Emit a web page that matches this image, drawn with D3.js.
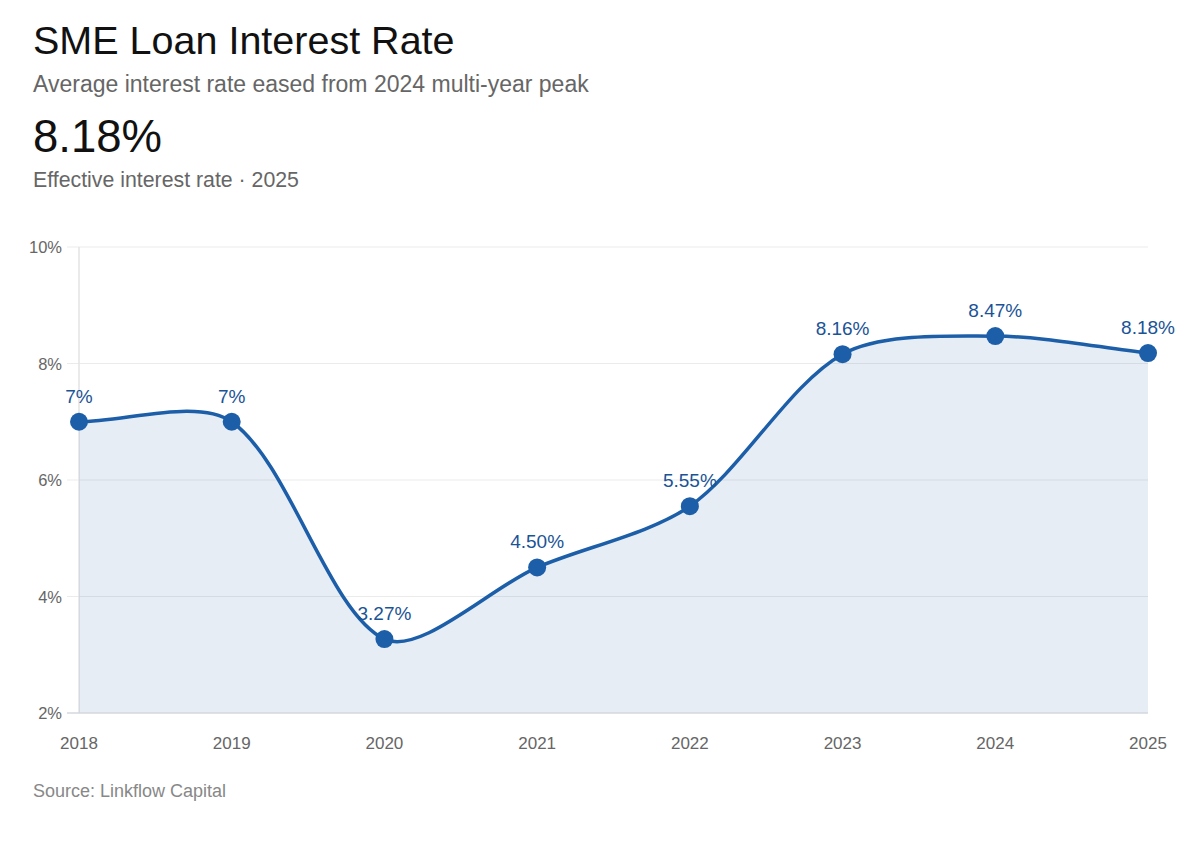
<!DOCTYPE html>
<html>
<head>
<meta charset="utf-8">
<script src="https://cdn.jsdelivr.net/npm/d3@7"></script>
<style>
  html, body { margin: 0; padding: 0; background: #fff; }
  svg { display: block; font-family: "Liberation Sans", Arial, Helvetica, sans-serif; }
</style>
</head>
<body>
<svg id="chart" width="1188" height="858"></svg>
<script>
const years = ["2018", "2019", "2020", "2021", "2022", "2023", "2024", "2025"];
const rates = [7.0, 7.0, 3.27, 4.50, 5.55, 8.16, 8.47, 8.18];
const valueLabels = ["7%", "7%", "3.27%", "4.50%", "5.55%", "8.16%", "8.47%", "8.18%"];
const yTicks = [2, 4, 6, 8, 10];

const titleText = "SME Loan Interest Rate";
const subtitleText = "Average interest rate eased from 2024 multi-year peak";
const headlineValue = "8.18%";
const headlineCaption = "Effective interest rate · 2025";
const sourceText = "Source: Linkflow Capital";

(function () {
const svg = d3.select("#chart");
const pL = 79, pR = 1148, pT = 247, pB = 713;

const x = d3.scalePoint().domain(years).range([pL, pR]);
const y = d3.scaleLinear().domain([2, 10]).range([pB, pT]);

// Header
svg.append("text").attr("x", 33).attr("y", 54).attr("font-size", 39.5).attr("fill", "#111").text(titleText);
svg.append("text").attr("x", 33).attr("y", 92).attr("font-size", 23).attr("fill", "#666").text(subtitleText);
svg.append("text").attr("x", 33).attr("y", 152).attr("font-size", 45.5).attr("fill", "#111").text(headlineValue);
svg.append("text").attr("x", 33).attr("y", 187).attr("font-size", 21.3).attr("fill", "#666").text(headlineCaption);

// Grid
svg.append("g").selectAll("line").data(yTicks.filter(d => d !== 2)).join("line")
  .attr("x1", pL - 12).attr("x2", pR)
  .attr("y1", d => y(d)).attr("y2", d => y(d))
  .attr("stroke", "#ebebeb").attr("stroke-width", 1);
svg.append("line").attr("x1", pL).attr("x2", pL).attr("y1", pT).attr("y2", pB)
  .attr("stroke", "#e3e3e3").attr("stroke-width", 1.5);

const data = years.map((yr, i) => ({ yr, v: rates[i], label: valueLabels[i] }));
const pts = data.map(d => [x(d.yr), y(d.v)]);

// Spline with tension 0.3 (distance-weighted control points)
function controlPoints(p, t) {
  return p.map((cur, i) => {
    const prev = p[i - 1] || cur, next = p[i + 1] || cur;
    const d01 = Math.hypot(cur[0] - prev[0], cur[1] - prev[1]);
    const d12 = Math.hypot(next[0] - cur[0], next[1] - cur[1]);
    let s01 = d01 / (d01 + d12), s12 = d12 / (d01 + d12);
    if (!isFinite(s01)) s01 = 0;
    if (!isFinite(s12)) s12 = 0;
    const fa = t * s01, fb = t * s12;
    return {
      prev: [cur[0] - fa * (next[0] - prev[0]), cur[1] - fa * (next[1] - prev[1])],
      next: [cur[0] + fb * (next[0] - prev[0]), cur[1] + fb * (next[1] - prev[1])]
    };
  });
}
function splinePath(p, closeTo) {
  const cps = controlPoints(p, 0.3);
  const path = d3.path();
  path.moveTo(p[0][0], p[0][1]);
  for (let i = 1; i < p.length; i++) {
    const a = cps[i - 1].next, b = cps[i].prev;
    path.bezierCurveTo(a[0], a[1], b[0], b[1], p[i][0], p[i][1]);
  }
  if (closeTo !== undefined) {
    path.lineTo(p[p.length - 1][0], closeTo);
    path.lineTo(p[0][0], closeTo);
    path.closePath();
  }
  return path.toString();
}

svg.append("path").attr("d", splinePath(pts, y(2))).attr("fill", "rgba(26,92,166,0.11)");

svg.append("line").attr("x1", pL - 12).attr("x2", pR).attr("y1", pB).attr("y2", pB)
  .attr("stroke", "#d3d7dd").attr("stroke-width", 1.5);

svg.append("path").attr("d", splinePath(pts)).attr("fill", "none")
  .attr("stroke", "#1c5ea8").attr("stroke-width", 3.5);

svg.selectAll("circle.pt").data(data).join("circle").attr("class", "pt")
  .attr("cx", d => x(d.yr)).attr("cy", d => y(d.v)).attr("r", 9).attr("fill", "#1c5ea8");

svg.selectAll("text.vl").data(data).join("text").attr("class", "vl")
  .attr("x", d => x(d.yr)).attr("y", d => y(d.v) - 19)
  .attr("text-anchor", "middle").attr("font-size", 19).attr("fill", "#1a5396")
  .text(d => d.label);

svg.selectAll("text.yt").data(yTicks).join("text").attr("class", "yt")
  .attr("x", 62).attr("y", d => y(d) + 6).attr("text-anchor", "end")
  .attr("font-size", 16.5).attr("fill", "#666").text(d => d + "%");

svg.selectAll("text.xt").data(years).join("text").attr("class", "xt")
  .attr("x", d => x(d)).attr("y", 749).attr("text-anchor", "middle")
  .attr("font-size", 17).attr("fill", "#666").text(d => d);

svg.append("text").attr("x", 33).attr("y", 797).attr("font-size", 18).attr("fill", "#888").text(sourceText);
})();
</script>
</body>
</html>
